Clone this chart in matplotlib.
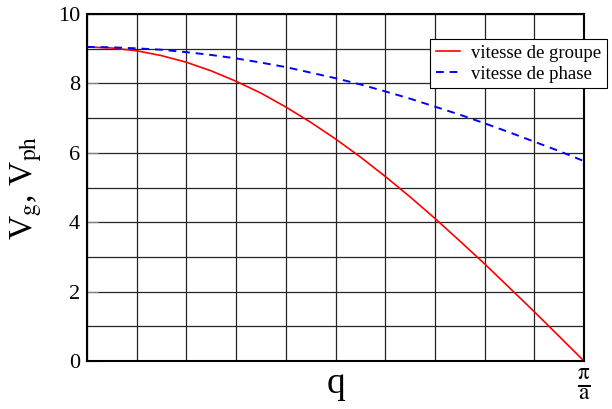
import matplotlib
matplotlib.use('Agg')
import matplotlib.pyplot as plt
from matplotlib.ticker import MultipleLocator

plt.rcParams['font.family'] = ['Liberation Serif', 'DejaVu Serif']
plt.rcParams['mathtext.fontset'] = 'stix'

# q in units of pi/a
q = [0.0, 0.05, 0.1, 0.15, 0.2, 0.25, 0.3, 0.35, 0.4, 0.45, 0.5,
     0.55, 0.6, 0.65, 0.7, 0.75, 0.8, 0.85, 0.9, 0.95, 1.0]
v_groupe = [9.05, 9.02, 8.94, 8.80, 8.61, 8.36, 8.06, 7.72, 7.32, 6.88, 6.40,
            5.88, 5.32, 4.73, 4.11, 3.46, 2.80, 2.11, 1.42, 0.71, 0.0]
v_phase = [9.05, 9.04, 9.01, 8.97, 8.90, 8.82, 8.72, 8.60, 8.47, 8.31, 8.15,
           7.97, 7.77, 7.56, 7.33, 7.10, 6.85, 6.59, 6.32, 6.05, 5.76]
y_ticks = [0, 2, 4, 6, 8, 10]

fig = plt.figure(figsize=(6.12, 4.09), dpi=100)
ax = fig.add_axes([87 / 612, 48 / 409, 497 / 612, 347 / 409])

ax.plot(q, v_groupe, color='red', lw=1.2, label='vitesse de groupe')
ax.plot(q, v_phase, color='blue', lw=1.4, linestyle=(0, (4, 3)),
        label='vitesse de phase')

ax.set_xlim(0, 1)
ax.set_ylim(0, 10)
ax.set_yticks(y_ticks)
ax.set_yticklabels([str(v) for v in y_ticks], fontsize=16)
ax.yaxis.set_minor_locator(MultipleLocator(1))
ax.set_xticks([0.5, 1.0])
ax.set_xticklabels(['q', r'$\frac{\mathrm{π}}{\mathrm{a}}$'])
xl = ax.get_xticklabels()
xl[0].set_fontsize(27)
xl[1].set_fontsize(24)
ax.xaxis.set_minor_locator(MultipleLocator(0.1))
ax.tick_params(axis='x', which='both', length=0, pad=4)
ax.tick_params(axis='y', which='major', direction='in', length=8,
               color='0.5', pad=5)
ax.tick_params(axis='y', which='minor', length=0)
ax.grid(True, which='both', color='0.15', lw=0.9)
ax.set_axisbelow(True)
for s in ax.spines.values():
    s.set_linewidth(1.5)

ax.set_ylabel(r'V$_{\rm g}$, V$_{\rm ph}$', fontsize=24, labelpad=10)

leg = fig.legend(loc='upper left', bbox_to_anchor=(430 / 612, 1 - 39 / 409),
                 fontsize=13.5, handlelength=1.3, handletextpad=0.6,
                 borderaxespad=0, borderpad=0.3, labelspacing=0.2,
                 fancybox=False, framealpha=1, edgecolor='black')
leg.get_frame().set_linewidth(0.8)

fig.savefig('out.png', dpi=100)
